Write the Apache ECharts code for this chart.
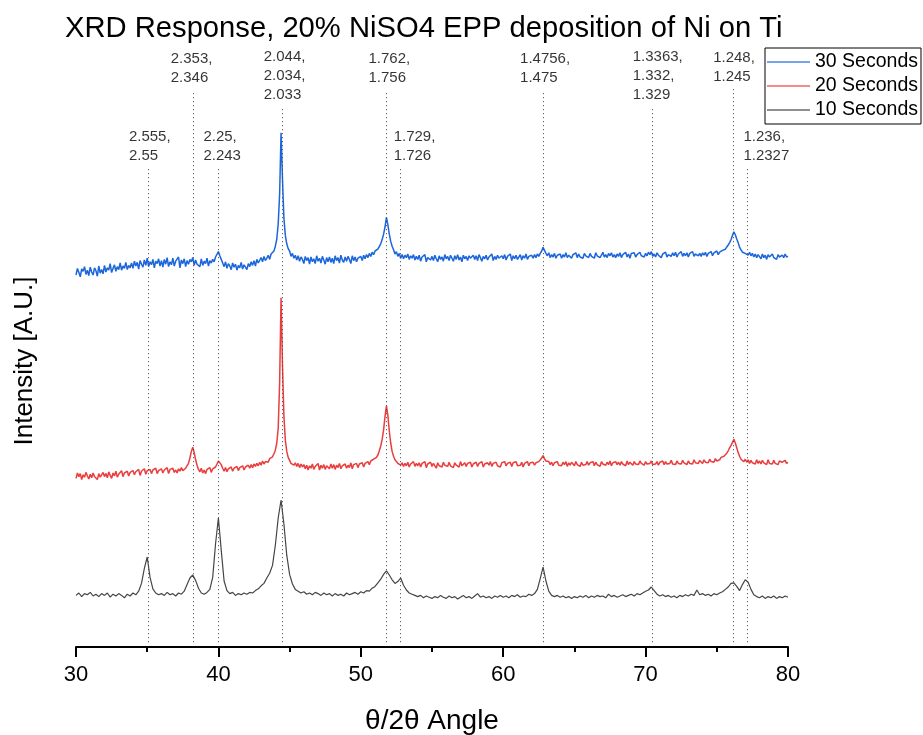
<!DOCTYPE html>
<html lang="en">
<head>
    <meta charset="UTF-8">
    <title>XRD Response</title>
    <script src="https://cdn.jsdelivr.net/npm/echarts@6/dist/echarts.min.js"></script>
</head>
<body style="margin:0">
    <div id="main" style="width: 923px; height:735px"></div>
</body>
</html>

<script>
    // 2theta sampling starts at 30 deg; 30 s and 20 s scans read every 0.1 deg, 10 s every 0.2 deg
    const angleStart = 30
    const stepFine = 0.1, stepCoarse = 0.2

    // intensities (A.U.); 30 s / 20 s rows of 20 = 2 deg
    const sec30 = [
        62.0,63.1,62.4,61.7,63.0,62.6,63.4,62.1,62.8,61.9,63.3,62.5,62.0,63.2,62.7,61.8,63.5,62.3,62.9,62.2,
        63.6,62.5,63.2,62.8,63.9,62.4,63.1,63.7,62.6,63.4,62.9,64.0,62.8,63.5,63.1,64.1,62.9,63.6,63.2,64.0,
        63.1,64.3,63.5,64.1,63.0,64.4,63.8,63.3,64.5,63.6,64.8,63.4,64.2,63.7,64.6,63.2,64.3,63.9,64.7,63.5,
        64.4,63.3,64.6,63.8,64.9,63.4,64.2,63.7,64.8,63.5,64.3,64.0,65.0,63.2,64.5,63.9,64.7,63.4,64.4,63.8,
        64.6,64.2,64.9,63.6,64.5,63.8,64.1,63.4,64.7,63.6,64.3,63.9,64.8,63.5,64.4,64.0,64.6,64.2,65.0,65.3,
        65.9,65.2,64.6,64.0,63.4,64.2,63.1,63.9,63.5,62.9,64.0,63.3,63.8,62.8,63.6,63.2,64.1,63.0,63.7,63.3,
        62.9,63.9,63.4,64.2,63.6,64.4,63.5,64.6,64.0,63.8,64.9,64.2,65.1,64.4,64.8,65.3,64.6,65.5,65.2,66.0,
        66.8,68.0,70.5,75.5,85.7,78.0,71.5,68.6,67.2,66.4,66.0,65.1,65.6,64.8,65.3,64.5,65.2,64.3,65.0,64.6,
        63.9,65.1,64.4,64.9,63.8,65.0,64.2,64.7,63.9,65.2,64.3,64.8,64.0,65.1,64.5,63.8,64.9,64.2,65.0,64.1,
        64.8,63.9,65.2,64.4,64.9,64.0,65.3,64.5,64.1,65.0,64.3,65.1,64.6,63.9,65.2,64.4,65.0,64.2,64.8,64.5,
        65.1,64.4,65.3,64.7,65.4,64.9,65.6,65.1,65.8,65.4,66.0,65.7,66.3,66.6,67.2,67.9,68.8,70.0,71.6,70.4,
        68.8,67.6,66.8,66.2,65.5,65.9,65.1,65.6,64.8,65.4,64.7,65.3,64.9,65.5,64.6,65.2,64.8,65.4,64.5,65.1,
        64.6,65.3,64.3,65.0,64.7,65.4,64.2,64.9,65.2,64.5,65.1,64.4,65.3,64.7,64.2,65.2,64.6,65.0,64.3,65.4,
        64.7,65.1,64.4,65.3,64.8,64.3,65.2,64.6,65.4,64.5,65.0,64.2,65.3,64.7,65.1,64.4,65.2,64.8,64.5,65.3,
        64.6,65.2,64.4,65.4,64.9,64.3,65.1,64.7,65.3,64.5,65.0,64.8,65.5,64.4,65.1,64.6,65.3,64.8,64.5,65.2,
        64.7,65.4,64.5,65.1,64.9,65.5,64.4,65.2,64.7,65.3,64.6,65.0,65.4,64.5,65.2,64.8,65.5,64.6,65.1,64.9,
        65.3,64.8,65.4,64.9,65.5,65.1,65.6,66.0,66.6,66.1,65.6,65.2,65.7,64.9,65.4,65.0,65.6,64.8,65.3,65.0,
        65.5,64.8,65.4,65.0,65.7,64.9,65.3,65.6,64.8,65.4,65.1,65.7,64.9,65.5,65.0,65.3,64.8,65.6,65.2,65.5,
        64.9,65.6,65.1,65.4,64.8,65.7,65.2,65.5,64.9,65.3,65.8,65.0,65.4,64.9,65.6,65.2,65.7,65.0,65.4,64.9,
        65.5,65.1,65.7,64.9,65.4,65.2,65.8,65.0,65.5,64.8,65.6,65.3,65.7,65.0,65.4,65.1,65.8,65.2,65.5,65.0,
        65.6,65.2,65.8,65.4,65.9,65.1,65.5,65.0,65.7,65.3,65.6,64.9,65.5,65.2,65.8,65.0,65.4,65.6,65.1,65.7,
        65.2,65.8,65.0,65.5,65.3,65.9,65.1,65.6,65.2,65.7,65.0,65.6,65.3,65.9,65.1,65.5,65.8,65.2,65.6,65.1,
        65.7,65.3,65.8,65.1,65.6,65.4,65.9,65.2,65.7,65.5,66.0,65.4,65.8,65.6,66.1,65.9,66.3,66.6,67.0,67.4,
        67.9,68.6,69.2,68.7,68.0,67.4,66.6,66.2,65.8,66.1,65.6,65.9,65.3,65.8,65.2,65.6,65.0,65.5,64.9,65.4,
        65.1,64.7,65.5,64.9,65.3,64.6,65.4,65.0,64.8,65.5,64.9,65.2,64.6,65.4,65.0,64.7,65.3,64.9,65.5,65.0,
        65.1
    ]
    const sec20 = [
        28.1,29.0,28.4,28.9,27.9,28.7,28.3,29.1,28.5,28.0,28.8,28.2,29.0,28.4,28.7,27.9,28.9,28.3,28.6,29.1,
        28.4,28.9,28.2,29.2,28.6,28.1,29.0,28.5,29.3,28.3,28.8,28.6,29.4,28.4,29.0,28.7,29.3,28.5,29.1,28.8,
        29.4,28.7,29.2,28.9,29.6,28.6,29.3,29.0,29.7,28.8,29.4,29.1,29.6,28.9,29.5,29.2,29.8,28.9,29.4,29.1,
        29.7,29.0,29.5,29.2,29.9,28.9,29.6,29.3,29.8,29.1,29.5,29.0,29.7,29.3,29.9,29.4,29.6,29.8,30.1,30.6,
        31.5,32.6,33.3,32.4,31.2,30.3,29.6,29.2,29.8,29.0,29.5,28.9,29.6,29.3,29.9,29.1,29.7,29.4,30.0,30.5,
        31.0,31.2,30.4,29.8,29.3,29.9,29.2,29.7,29.5,30.0,29.3,29.8,29.6,30.1,29.4,29.9,29.7,30.2,29.5,30.0,
        29.7,30.3,29.8,30.4,29.9,30.5,30.1,30.6,30.2,30.8,30.3,31.0,30.5,30.9,31.2,30.8,31.4,31.1,31.7,32.2,
        32.8,34.0,36.5,44.0,58.2,47.0,38.5,34.5,32.6,31.6,31.1,30.6,30.9,30.3,30.7,30.1,30.6,29.9,30.5,30.0,
        30.4,29.7,30.3,29.5,30.2,29.8,30.5,29.6,30.1,29.9,30.6,29.5,30.3,29.8,30.4,29.6,30.2,30.0,29.7,30.5,
        29.8,30.4,29.6,30.3,29.9,30.6,29.7,30.2,30.0,30.5,29.8,30.3,29.9,30.7,29.7,30.4,30.1,30.6,29.9,30.5,
        30.2,30.7,30.0,30.6,30.3,30.9,30.4,31.0,30.8,31.3,31.2,31.6,32.0,32.7,33.5,34.6,36.2,38.4,40.2,38.6,
        36.0,34.0,32.6,31.8,31.2,31.0,30.6,30.9,30.3,30.7,30.1,30.6,30.2,30.8,30.0,30.5,30.3,30.9,30.1,30.6,
        30.2,30.7,30.0,30.6,30.4,30.9,29.9,30.5,30.2,30.8,30.1,30.6,30.3,29.8,30.7,30.2,30.5,30.0,30.8,30.3,
        30.6,30.1,30.8,30.2,30.5,29.9,30.7,30.3,30.6,30.0,30.9,30.2,30.4,30.7,30.1,30.6,30.3,30.8,30.0,30.5,
        30.3,30.8,30.1,30.6,30.4,30.9,30.0,30.5,30.2,30.7,30.3,30.9,30.1,30.6,30.4,30.8,30.2,30.5,30.0,30.7,
        30.4,30.9,30.2,30.6,30.3,30.8,30.1,30.7,30.4,30.9,30.2,30.5,30.3,30.8,30.0,30.6,30.4,30.9,30.2,30.7,
        30.4,30.8,30.3,30.7,30.5,30.9,31.2,31.5,31.9,31.4,31.0,30.7,30.9,30.4,30.8,30.2,30.7,30.4,30.9,30.3,
        30.6,30.2,30.8,30.4,30.9,30.1,30.7,30.3,30.8,30.5,30.2,30.9,30.4,30.7,30.1,30.8,30.3,30.6,30.4,30.9,
        30.3,30.7,30.5,30.9,30.2,30.8,30.4,30.6,30.1,30.9,30.5,30.7,30.3,30.8,30.4,31.0,30.2,30.7,30.5,30.9,
        30.4,30.8,30.3,30.9,30.5,30.7,30.2,31.0,30.4,30.8,30.6,30.3,30.9,30.5,30.7,30.4,31.0,30.6,30.8,30.3,
        30.9,30.5,30.8,30.6,31.0,30.4,30.7,30.5,30.9,30.3,30.8,30.6,31.0,30.4,30.9,30.5,30.7,30.6,31.1,30.5,
        30.8,30.4,31.0,30.6,30.9,30.5,31.1,30.7,30.9,30.4,31.0,30.6,30.8,30.5,31.2,30.7,30.9,30.6,31.1,30.8,
        30.6,31.2,30.8,31.0,30.7,31.3,30.9,31.1,30.8,31.4,31.0,31.3,31.2,31.6,31.5,31.8,32.0,32.3,32.7,33.2,
        33.6,34.1,34.6,34.0,33.2,32.4,31.8,31.3,31.5,30.9,31.3,30.8,31.2,30.6,31.1,30.7,31.0,30.5,31.2,30.6,
        31.0,30.5,31.1,30.7,30.9,30.4,31.2,30.6,30.8,30.5,31.1,30.6,30.9,30.4,31.0,30.7,30.8,30.5,31.1,30.6,
        30.8
    ]
    // 10 s scan, rows of 10 = 2 deg
    const sec10 = [
        8.6,9.0,8.4,8.9,8.7,9.1,8.5,8.8,8.4,8.9,
        8.6,9.0,8.3,8.8,8.5,8.9,8.6,8.2,8.8,8.5,
        9.0,8.7,9.3,10.6,13.1,15.0,11.6,9.7,9.0,8.7,
        8.9,8.6,9.1,8.7,8.9,8.5,9.0,8.8,9.3,10.4,
        11.5,12.0,11.1,9.8,9.0,8.8,9.1,9.6,11.6,17.2,
        21.5,16.1,11.0,9.4,8.9,9.1,8.6,8.9,8.7,9.0,
        8.8,9.1,9.0,9.4,9.7,10.2,10.6,11.5,12.3,13.6,
        17.0,21.5,24.5,20.5,15.3,12.1,10.5,9.6,9.3,9.0,
        9.2,8.8,9.0,8.7,9.1,8.9,8.6,9.0,8.7,8.9,
        8.5,8.9,8.6,8.8,8.5,9.0,8.7,8.9,9.1,8.8,
        9.2,9.0,9.4,9.3,9.8,10.1,10.7,11.3,12.1,12.7,
        12.0,11.2,10.6,10.9,11.5,10.3,9.5,9.0,8.8,8.6,
        8.4,8.6,8.2,8.5,8.3,8.1,8.4,8.2,8.6,8.3,
        8.1,8.5,8.2,8.4,8.0,8.3,8.6,8.2,8.4,8.1,
        8.5,8.9,8.3,8.5,8.2,8.4,8.1,8.5,8.3,8.6,
        8.3,8.5,8.2,8.6,8.4,8.7,8.3,8.5,8.4,8.8,
        8.6,8.9,9.6,11.4,13.3,11.0,9.3,8.6,8.4,8.6,
        8.3,8.5,8.2,8.4,8.1,8.4,8.2,8.5,8.3,8.6,
        8.2,8.5,8.3,8.6,8.4,8.5,8.2,8.8,8.4,8.6,
        8.3,8.5,8.7,8.4,8.6,8.8,8.5,8.9,8.7,9.0,
        9.3,9.5,10.0,9.4,8.8,8.5,8.7,8.4,8.6,8.3,
        8.5,8.2,8.6,8.4,8.7,8.5,8.8,8.6,9.5,8.7,
        8.9,8.6,8.8,8.5,8.9,8.7,9.0,9.2,9.6,10.0,
        10.6,10.7,10.1,9.4,10.4,11.2,10.8,9.6,8.7,8.4,
        8.2,8.5,8.1,8.4,8.2,8.5,8.1,8.4,8.2,8.5,
        8.3
    ]

    // reference peaks (2theta) and their d-spacing notes
    const peakAngles = [35.05, 38.2, 40.0, 44.45, 51.8, 52.8, 62.8, 70.5, 76.15, 77.15]
    const peakLabels = [
        '2.555,\n2.55', '2.353,\n2.346', '2.25,\n2.243', '2.044,\n2.034,\n2.033', '1.762,\n1.756',
        '1.729,\n1.726', '1.4756,\n1.475', '1.3363,\n1.332,\n1.329', '1.248,\n1.245', '1.236,\n1.2327'
    ]

    // layout for the dotted guide lines: top end (axis units) and label shift (px)
    const guideTop = [79.8, 92.8, 79.8, 90.0, 92.8, 79.8, 92.8, 90.0, 93.0, 79.8]
    const labelShift = [-19, -22, -15, -18, -18, -7, -23, -20, -20, -4]

    const names = ['30 Seconds', '20 Seconds', '10 Seconds']
    const colors = ['#1c66db', '#ea3d3d', '#454545']
    const widths = [1.5, 1.5, 1.2]

    const font = 'Liberation Sans, Arial, sans-serif'

    pts = (arr, step) => arr.map((v, i) => [+(angleStart + i * step).toFixed(2), v])

    const scans = [pts(sec30, stepFine), pts(sec20, stepFine), pts(sec10, stepCoarse)]

    let option = {
        animation: false,
        backgroundColor: '#ffffff',
        textStyle: { fontFamily: font, color: '#000' },
        title: {
            text: 'XRD Response, 20% NiSO4 EPP deposition of Ni on Ti',
            left: 60,
            top: 9,
            textStyle: { fontSize: 29.2, fontWeight: 'normal', color: '#000', fontFamily: font }
        },
        legend: {
            data: names,
            orient: 'vertical',
            left: 765,
            top: 48,
            padding: [4, 3, 4, 2],
            itemGap: 4,
            itemWidth: 43,
            itemHeight: 2,
            icon: 'rect',
            borderColor: '#000',
            borderWidth: 1,
            borderRadius: 0,
            itemStyle: { opacity: 0.6 },
            textStyle: { fontSize: 19.5, color: '#000', fontFamily: font }
        },
        grid: { left: 76, right: 135, top: 47, bottom: 88, outerBoundsMode: 'none' },
        xAxis: {
            type: 'value',
            min: 30,
            max: 80,
            interval: 10,
            name: 'θ/2θ Angle',
            nameLocation: 'middle',
            nameGap: 60,
            nameTextStyle: { fontSize: 28, color: '#000', fontFamily: font },
            axisLine: { lineStyle: { color: '#000', width: 2 } },
            axisTick: { length: 10, lineStyle: { color: '#000', width: 2 } },
            minorTick: { show: true, splitNumber: 2, length: 5, lineStyle: { color: '#000', width: 2 } },
            axisLabel: { fontSize: 22, color: '#000', margin: 17, fontFamily: font },
            splitLine: { show: false }
        },
        yAxis: {
            type: 'value',
            min: 0,
            max: 100,
            name: 'Intensity [A.U.]',
            nameLocation: 'middle',
            nameGap: 38,
            nameTextStyle: { fontSize: 26, color: '#000', fontFamily: font, padding: [0, 28, 0, 0] },
            axisLine: { show: false },
            axisTick: { show: false },
            axisLabel: { show: false },
            splitLine: { show: false }
        },
        series: [
            ...names.map((n, k) => ({
                name: n,
                type: 'line',
                data: scans[k],
                showSymbol: false,
                symbol: 'none',
                color: colors[k],
                lineStyle: { width: widths[k], color: colors[k] },
                z: 3 - k
            })),
            {
                name: 'peaks',
                type: 'scatter',
                silent: true,
                symbolSize: 0,
                z: 5,
                data: peakAngles.map((a, i) => [a, guideTop[i]]),
                label: {
                    show: true,
                    position: 'top',
                    distance: 3,
                    align: 'left',
                    fontSize: 15,
                    lineHeight: 19,
                    color: '#000',
                    fontFamily: font,
                    formatter: (p) => peakLabels[p.dataIndex]
                },
                labelLayout: (p) => ({ dx: labelShift[p.dataIndex] }),
                markLine: {
                    silent: true,
                    symbol: ['none', 'none'],
                    label: { show: false },
                    lineStyle: { color: '#444', width: 1, type: [1, 3] },
                    data: peakAngles.map((a, i) => [{ coord: [a, 0.8] }, { coord: [a, guideTop[i]] }])
                }
            }
        ]
    }

    init = () => {
        var myChart = echarts.init(document.getElementById('main'))
        myChart.setOption(option)
    }

    init()
</script>
